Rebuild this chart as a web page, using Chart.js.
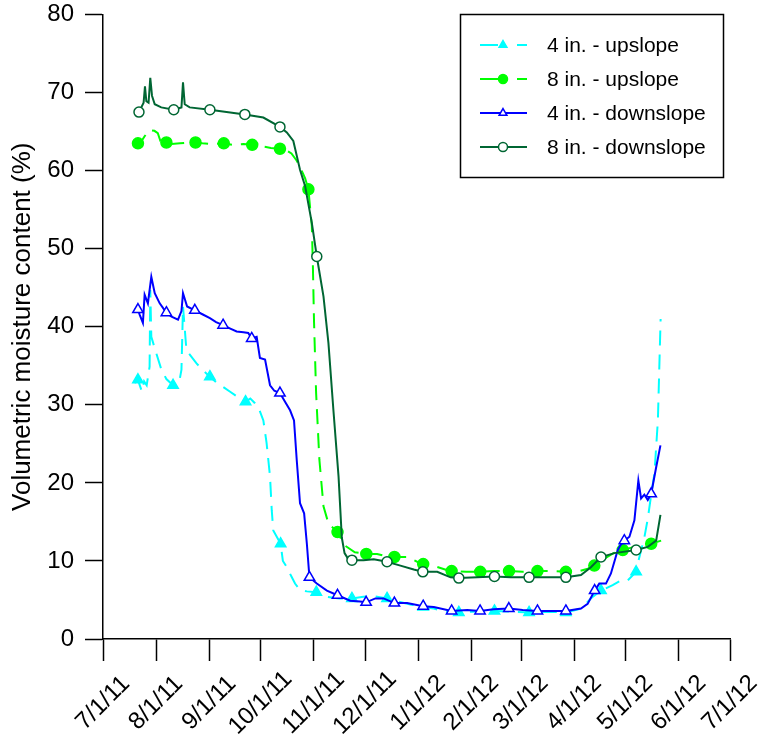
<!DOCTYPE html>
<html>
<head>
<meta charset="utf-8">
<script src="https://cdn.jsdelivr.net/npm/chart.js@4"></script>
<style>
  body { margin: 0; background: #fff; }
  #wrap { width: 763px; height: 744px; }
</style>
</head>
<body>
<div id="wrap"><canvas id="my-chart" width="763" height="744"></canvas></div>
<script>
// x values are days since 7/1/11
let tickDays = [0, 31, 62, 92, 123, 153, 184, 215, 244, 275, 305, 336, 366];
let tickLabels = ['7/1/11', '8/1/11', '9/1/11', '10/1/11', '11/1/11', '12/1/11', '1/1/12', '2/1/12', '3/1/12', '4/1/12', '5/1/12', '6/1/12', '7/1/12'];
let seriesNames = ['4 in. - upslope', '8 in. - upslope', '4 in. - downslope', '8 in. - downslope'];

// 4 in. - upslope
let cyDays = [18.4, 20.4, 22.7, 24, 25.5, 27.2, 27.6, 28.2, 31.1, 34.1, 37, 40.9, 44.4, 45.8, 46.7, 48.7, 54.6, 58, 62.4, 66, 70.1, 74, 78, 83.2, 86, 88.7, 91, 93.6, 95.5, 97.5, 98.5, 99.4, 103.7, 105, 107.3, 110, 112.1, 115, 119, 124.5, 131, 138, 145.3, 152, 158, 165.8, 172, 180, 186.9, 193, 200, 207.7, 215, 228.5, 238, 248.7, 260, 270.2, 279, 285.8, 290.7, 297.5, 302.4, 306.3, 311.2, 312.2, 316, 318, 320.4, 321.9, 323.9, 325.5];
let cyVals = [32.8, 33.2, 31.7, 33.0, 32.5, 34.9, 44.7, 38.7, 36.6, 34.5, 33.3, 32.5, 32.8, 34.5, 42.6, 37.0, 35.3, 34.5, 33.6, 32.9, 32.3, 31.7, 31.1, 30.4, 30.8, 30.2, 29.5, 28.0, 25.1, 20.8, 16.5, 13.9, 12.2, 10.0, 9.2, 8.0, 7.1, 6.3, 6.1, 6.0, 5.4, 5.2, 5.2, 5.4, 5.5, 5.2, 4.8, 4.4, 4.1, 3.9, 3.5, 3.4, 3.5, 3.6, 3.5, 3.4, 3.5, 3.4, 3.9, 5.4, 6.2, 6.9, 7.5, 7.5, 8.6, 9.7, 13.0, 15.4, 19.1, 21.2, 28.0, 41.0];
let cyMarks = [20.4, 40.9, 62.4, 83.2, 103.7, 124.5, 145.3, 165.8, 186.9, 207.7, 228.5, 248.7, 270.2, 290.7, 311.2];

// 8 in. - upslope
let lgDays = [18.4, 20.4, 22.5, 24.3, 27, 30, 32, 33.5, 37, 40, 45, 50, 54, 58, 64, 70.5, 76, 82, 87.1, 93, 98, 103.3, 107, 110, 113, 115, 118, 119.9, 121, 121.9, 122.5, 123.2, 124.4, 126.3, 128.7, 131.6, 136.9, 141, 147, 153.7, 160, 165, 170.1, 177.5, 183.4, 186.9, 194, 201, 203.5, 212, 220.2, 228, 237, 245, 253.6, 262, 270.2, 278, 283, 286.8, 292, 298, 303.4, 310, 315, 320, 325.8];
let lgVals = [63.4, 63.5, 63.8, 64.4, 65.2, 65.1, 64.8, 63.8, 63.6, 63.4, 63.5, 63.6, 63.6, 63.5, 63.4, 63.5, 63.3, 63.4, 63.3, 63.1, 62.9, 62.8, 62.6, 62.2, 61.3, 60.5, 59.0, 57.6, 55.0, 52.9, 48.0, 40.5, 31.5, 23.0, 17.0, 14.8, 13.7, 12.0, 11.1, 10.9, 10.9, 10.6, 10.5, 10.5, 9.9, 9.6, 9.3, 8.8, 8.7, 8.6, 8.6, 8.7, 8.7, 8.6, 8.7, 8.7, 8.6, 8.7, 9.0, 9.4, 10.2, 11.0, 11.4, 11.8, 12.0, 12.2, 12.6];
let lgMarks = [20.4, 37, 54, 70.5, 87.1, 103.3, 119.9, 136.9, 153.7, 170.1, 186.9, 203.5, 220.2, 237, 253.6, 270.2, 286.8, 303.4, 320];

// 4 in. - downslope
let blDays = [18.4, 20.4, 21.5, 23.3, 24.3, 26.2, 28.2, 30.2, 33.1, 37, 40, 43.8, 45.8, 46.7, 49.1, 53.6, 58, 62.4, 66, 70.1, 74, 78, 82, 84.8, 86.8, 89.7, 91.6, 94.6, 97.5, 100, 103.3, 106, 109.2, 111.5, 113.1, 115, 117.4, 119, 120.5, 124.8, 130.7, 136.9, 144.3, 150, 153.6, 159, 163.8, 170.1, 177.5, 186.9, 193.1, 203.5, 212.6, 220.1, 228, 236.9, 245, 253.6, 262, 270.2, 279, 282.9, 287, 289.7, 293.6, 296.5, 300.5, 302, 304.3, 307.3, 310.2, 312.5, 314.1, 316, 318, 320, 322.9, 325.4];
let blVals = [42.2, 42.2, 41.5, 40.5, 44.1, 43.0, 46.4, 44.3, 43.0, 41.8, 41.3, 40.9, 42.0, 44.3, 42.6, 42.1, 41.6, 41.1, 40.6, 40.2, 39.8, 39.4, 39.3, 39.2, 38.5, 38.7, 36.0, 35.8, 32.5, 31.8, 31.5, 30.5, 29.3, 28.0, 22.9, 17.4, 16.1, 12.2, 7.9, 7.1, 6.2, 5.6, 4.9, 4.8, 4.7, 5.2, 5.2, 4.6, 4.6, 4.2, 4.1, 3.6, 3.7, 3.6, 3.8, 3.9, 3.7, 3.6, 3.6, 3.6, 3.9, 4.5, 6.2, 7.1, 7.1, 8.4, 11.4, 12.0, 12.6, 13.1, 15.2, 20.3, 18.0, 18.5, 17.8, 18.6, 22.0, 24.8];
let blMarks = [20.4, 37, 53.6, 70.1, 86.8, 103.3, 120.5, 136.9, 153.6, 170.1, 186.9, 203.5, 220.1, 236.9, 253.6, 270.2, 287, 304.3, 320];

// 8 in. - downslope
let dgDays = [18.4, 21, 23.7, 24.5, 25.3, 26.6, 27.6, 28.6, 30.2, 34, 41.3, 45.8, 46.7, 47.7, 50.6, 62.4, 72.1, 82.8, 93.6, 103.3, 107.3, 111.1, 115, 118, 121.9, 124.8, 128.7, 131.6, 134.5, 137.5, 139.4, 141, 143, 145.3, 152.1, 158, 165.8, 173.6, 181.4, 186.7, 195.1, 202.9, 207.7, 218.5, 228.5, 238, 248.7, 260, 270.2, 279, 284.8, 290.7, 298.5, 311.2, 318, 322.9, 325.4];
let dgVals = [67.5, 67.5, 68.7, 70.8, 68.9, 68.7, 71.9, 69.6, 68.5, 68.1, 67.8, 68.1, 71.3, 68.5, 68.1, 67.8, 67.5, 67.2, 66.8, 65.6, 64.9, 63.8, 60.1, 58.0, 53.3, 49.0, 43.9, 37.9, 29.3, 20.8, 13.0, 11.0, 10.3, 10.1, 10.1, 10.2, 9.9, 9.4, 8.9, 8.6, 8.6, 7.9, 7.8, 7.9, 8.0, 7.9, 7.9, 7.9, 7.9, 8.2, 9.2, 10.5, 11.0, 11.4, 11.8, 12.6, 15.9];
let dgMarks = [21, 41.3, 62.4, 82.8, 103.3, 124.8, 145.3, 165.8, 186.7, 207.7, 228.5, 248.7, 270.2, 290.7, 311.2];

const FONT = '"Liberation Sans", Arial, sans-serif';

function pts(days, vals) {
    return days.map((d, i) => ({ x: d, y: vals[i] }));
}
function marker(marks, r) {
    return ctx => (ctx.raw && marks.includes(ctx.raw.x)) ? r : 0;
}

let datasets = [
    { label: seriesNames[0], data: pts(cyDays, cyVals), borderColor: '#00FFFF', backgroundColor: '#00FFFF',
      borderDash: [15, 9], pointStyle: 'triangle', pointRadius: marker(cyMarks, 6),
      pointBackgroundColor: '#00FFFF', pointBorderColor: '#00FFFF', order: 4, legendDash: true },
    { label: seriesNames[1], data: pts(lgDays, lgVals), borderColor: '#00FF00', backgroundColor: '#00FF00',
      borderDash: [15, 9], pointStyle: 'circle', pointRadius: marker(lgMarks, 5.5),
      pointBackgroundColor: '#00FF00', pointBorderColor: '#00FF00', order: 3, legendDash: true },
    { label: seriesNames[2], data: pts(blDays, blVals), borderColor: '#0000FF', backgroundColor: '#fff',
      pointStyle: 'triangle', pointRadius: marker(blMarks, 6),
      pointBackgroundColor: '#fff', pointBorderColor: '#0000FF', order: 2, legendDash: false },
    { label: seriesNames[3], data: pts(dgDays, dgVals), borderColor: '#006633', backgroundColor: '#fff',
      pointStyle: 'circle', pointRadius: marker(dgMarks, 5),
      pointBackgroundColor: '#fff', pointBorderColor: '#006633', order: 1, legendDash: false }
];
datasets.forEach(ds => {
    ds.borderWidth = 2;
    ds.pointBorderWidth = 1.5;
    ds.pointHoverRadius = 0;
    ds.tension = 0;
    ds.fill = false;
});

const paperPlugin = {
    id: 'paper',
    beforeDraw(chart) {
        const c = chart.ctx;
        c.save();
        c.fillStyle = '#fff';
        c.fillRect(0, 0, chart.width, chart.height);
        c.restore();
    },
    afterDraw(chart) {
        const c = chart.ctx;
        const xs = chart.scales.x;
        // rotated date labels, centred under each tick
        c.save();
        c.fillStyle = '#000';
        c.font = '24px ' + FONT;
        c.textAlign = 'center';
        c.textBaseline = 'middle';
        tickDays.forEach((d, i) => {
            c.save();
            c.translate(xs.getPixelForValue(d), 703);
            c.rotate(-Math.PI / 4);
            c.fillText(tickLabels[i], 0, 0);
            c.restore();
        });
        c.restore();

        // legend box
        c.save();
        c.strokeStyle = '#000';
        c.lineWidth = 1.5;
        c.strokeRect(460.5, 14.5, 263, 163);
        c.font = '21px ' + FONT;
        c.textBaseline = 'middle';
        c.textAlign = 'left';
        const rows = [45, 79, 113, 147];
        chart.data.datasets.forEach((ds, i) => {
            const y = rows[i];
            c.strokeStyle = ds.borderColor;
            c.lineWidth = 2;
            c.beginPath();
            if (ds.legendDash) {
                c.moveTo(480, y); c.lineTo(498, y);
                c.moveTo(517, y); c.lineTo(527, y);
            } else {
                c.moveTo(480, y); c.lineTo(527, y);
            }
            c.stroke();
            c.fillStyle = ds.pointBackgroundColor;
            c.strokeStyle = ds.pointBorderColor;
            c.lineWidth = 1.5;
            Chart.helpers.drawPoint(c, { pointStyle: ds.pointStyle, radius: 4.5, rotation: 0, borderWidth: 1.5 }, 503, y);
            c.fillStyle = '#000';
            c.fillText(ds.label, 547, y + 1);
        });
        c.restore();
    }
};

new Chart('my-chart', {
    type: 'line',
    data: { datasets: datasets },
    options: {
        responsive: false,
        animation: false,
        events: [],
        layout: { padding: { left: 0, right: 33, top: 14.5, bottom: 0 } },
        plugins: { legend: { display: false }, tooltip: { enabled: false } },
        scales: {
            x: {
                type: 'linear',
                min: 0,
                max: 366,
                afterBuildTicks: scale => { scale.ticks = tickDays.map(v => ({ value: v })); },
                afterFit: scale => { scale.height = 105; scale.paddingLeft = 0; scale.paddingRight = 0; },
                ticks: { display: false },
                grid: { drawOnChartArea: false, drawTicks: true, tickLength: 22, color: '#000', tickWidth: 1.5 },
                border: { display: true, color: '#000', width: 1.5 }
            },
            y: {
                min: 0,
                max: 80,
                afterFit: scale => { scale.width = 103; scale.paddingTop = 0; scale.paddingBottom = 0; },
                ticks: { stepSize: 10, color: '#000', padding: 11, font: { family: FONT, size: 24 } },
                grid: { drawOnChartArea: false, drawTicks: true, tickLength: 18, color: '#000', tickWidth: 1.5 },
                border: { display: true, color: '#000', width: 1.5 },
                title: {
                    display: true,
                    text: 'Volumetric moisture content (%)',
                    color: '#000',
                    font: { family: FONT, size: 26 },
                    padding: { top: 7, bottom: 0 }
                }
            }
        }
    },
    plugins: [paperPlugin]
});
</script>
</body>
</html>
